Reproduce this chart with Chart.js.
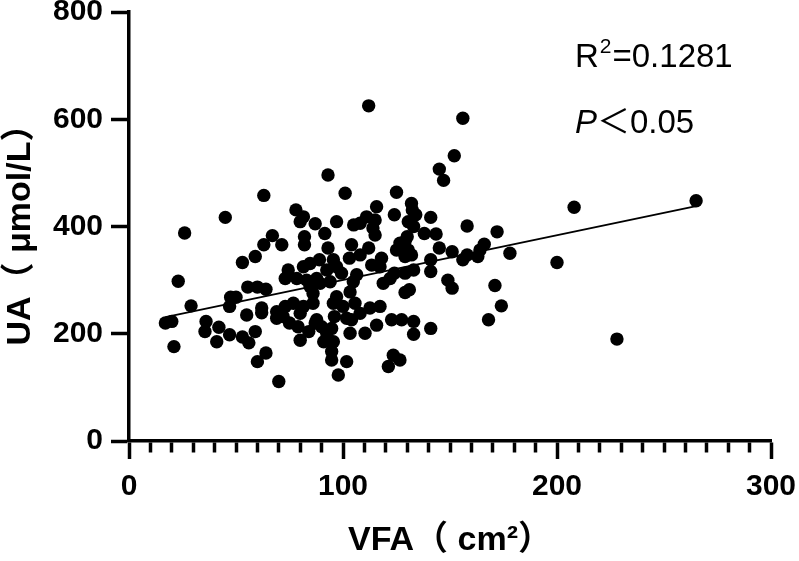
<!DOCTYPE html>
<html><head><meta charset="utf-8">
<script src="https://cdn.jsdelivr.net/npm/chart.js@4.4.0/dist/chart.umd.min.js"></script>
<style>html,body{margin:0;padding:0;background:#fff;}#wrap{width:799px;height:561px;}</style>
</head><body><div id="wrap"><canvas id="c" width="799" height="561"></canvas></div>
<script>
// VFA (cm²) values
const vfa = [
  63,45,26,67,63,59,53,23,55.5,60,64,47.5,50,47,29,55,62,62,69,69,17,20,36,35.5,42,41,47,53,56,59,21,64,60,70,
  93,101,78,81.5,80,87,97,91.5,82,82,71.4,105,108,111,115.7,115,115,104,93,112,108,103,95.5,89,84.6,81.5,74.4,73,118,113.4,
  117.3,97,92.4,99.3,106.4,87.7,83,78.4,94,89.3,84.6,118.8,104.8,103.3,97,95.5,100,105.6,86,86,81.5,76.8,73,72,75,79,80,84,87.7,90,
  92.4,94.7,95.5,94.7,94.7,101.7,97.8,108,101.7,103.3,110.3,115.7,117.3,112.6,121.2,
  80,96,104,91,87,
  156,152,145,147,125,132,132.4,124,134,141,130.5,133,158,172,138,143.5,130,129,126.6,125,130.5,129,132,145,151,156,158,163,166,164,
  178,141,141,133,129,124,122,129,131,149,151,171,174,168,122.7,127.4,133,133,141,123.5,126.6,114,
  208,265,200,228,112
];
// UA (μmol/L) values
const ua = [
  458,417,388,383,366,344,333,298,287,287,283,268,268,251,252,235,248,239,241,229,220,223,223,204,212,185,198,194,183,204,176,164,148,111,
  496,462,431,418,409,405,409,387,381,366,366,403,406,418,437,412,384,366,360,360,347,341,338,338,331,325,319,303,341,328,
  325,325,319,313,310,303,300,303,297,294,288,294,297,278,269,257,251,257,275,257,251,257,251,232,220,213,188,204,226,213,
  201,210,185,167,151,148,123,238,229,201,201,216,251,248,139,
  238,232,226,185,220,
  602,532,507,486,464,443,431,422,422,417,409,400,401,390,387,386,381,372,369,356,356,344,347,360,353,338,347,344,367,356,
  350,338,316,319,313,313,303,277,282,300,285,290,252,226,226,226,223,199,210,160,151,397,
  436,448,333,190,625
];
// regression line endpoints
const fitX = [17, 265];
const fitY = [231, 438];
const r2Text = '0.1281';
const pText = '0.05';

const FAM = "'Liberation Sans', Arial, 'Noto Sans CJK SC', sans-serif";

const annot = {
  id: 'annot',
  afterDraw(chart) {
    const ctx = chart.ctx, xs = chart.scales.x, ys = chart.scales.y;
    ctx.save();
    ctx.fillStyle = '#000';
    ctx.textBaseline = 'alphabetic';
    ctx.textAlign = 'left';
    let px = xs.getPixelForValue(208.4), py = ys.getPixelForValue(698);
    ctx.font = "33px " + FAM;
    ctx.fillText('R', px, py); px += ctx.measureText('R').width + 1;
    ctx.font = "21px " + FAM;
    ctx.fillText('2', px, py - 14); px += ctx.measureText('2').width + 1;
    ctx.font = "33px " + FAM;
    ctx.fillText('=' + r2Text, px, py);
    px = xs.getPixelForValue(208.4); py = ys.getPixelForValue(575);
    ctx.font = "italic 33px " + FAM;
    ctx.fillText('P', px, py); px += ctx.measureText('P').width;
    ctx.font = "33px 'Noto Sans CJK SC', " + FAM;
    ctx.fillText('＜', px, py); px += ctx.measureText('＜').width;
    ctx.font = "33px " + FAM;
    ctx.fillText(pText, px, py);
    ctx.restore();
  }
};

const tickFont = {family: FAM, size: 30, weight: 'bold'};
const titleFont = {family: FAM, size: 34, weight: 'bold'};

new Chart(document.getElementById('c'), {
  type: 'scatter',
  data: {
    datasets: [
      {
        data: vfa.map((x, i) => ({x: x, y: ua[i]})),
        backgroundColor: '#000', borderWidth: 0, pointRadius: 6.7, pointHoverRadius: 6.7
      },
      {
        type: 'line',
        data: fitX.map((x, i) => ({x: x, y: fitY[i]})),
        borderColor: '#000', borderWidth: 2, pointRadius: 0, fill: false, showLine: true
      }
    ]
  },
  options: {
    responsive: false, animation: false,
    layout: {padding: {top: 12, right: 28, left: 0, bottom: 0}},
    plugins: {legend: {display: false}, tooltip: {enabled: false}},
    scales: {
      x: {
        type: 'linear', position: 'bottom', min: 0, max: 300,
        ticks: {stepSize: 10, autoSkip: false, maxRotation: 0, color: '#000', font: tickFont, padding: 10,
          callback: v => (v % 100 === 0 ? String(v) : '')},
        grid: {drawOnChartArea: false, drawTicks: true, tickLength: 18, tickWidth: 3.5, tickColor: '#000',
          tickBorderDash: c => (c.tick && c.tick.value % 100 !== 0) ? [10, 200] : []},
        border: {display: true, color: '#000', width: 3.5},
        title: {display: true, text: 'VFA（ cm²）', color: '#000', font: titleFont, padding: 0},
        afterFit(s) { s.height = 120; s.paddingLeft = 0; s.paddingRight = 0; }
      },
      y: {
        type: 'linear', min: 0, max: 800,
        ticks: {stepSize: 200, color: '#000', font: tickFont, padding: 8},
        grid: {drawOnChartArea: false, drawTicks: true, tickLength: 18, tickWidth: 3.5, tickColor: '#000'},
        border: {display: true, color: '#000', width: 3.5},
        title: {display: true, text: 'UA（ μmol/L）', color: '#000', font: titleFont, padding: 0},
        afterFit(s) { s.width = 129; s.paddingTop = 0; s.paddingBottom = 0; }
      }
    }
  },
  plugins: [annot]
});
</script>
</body></html>
